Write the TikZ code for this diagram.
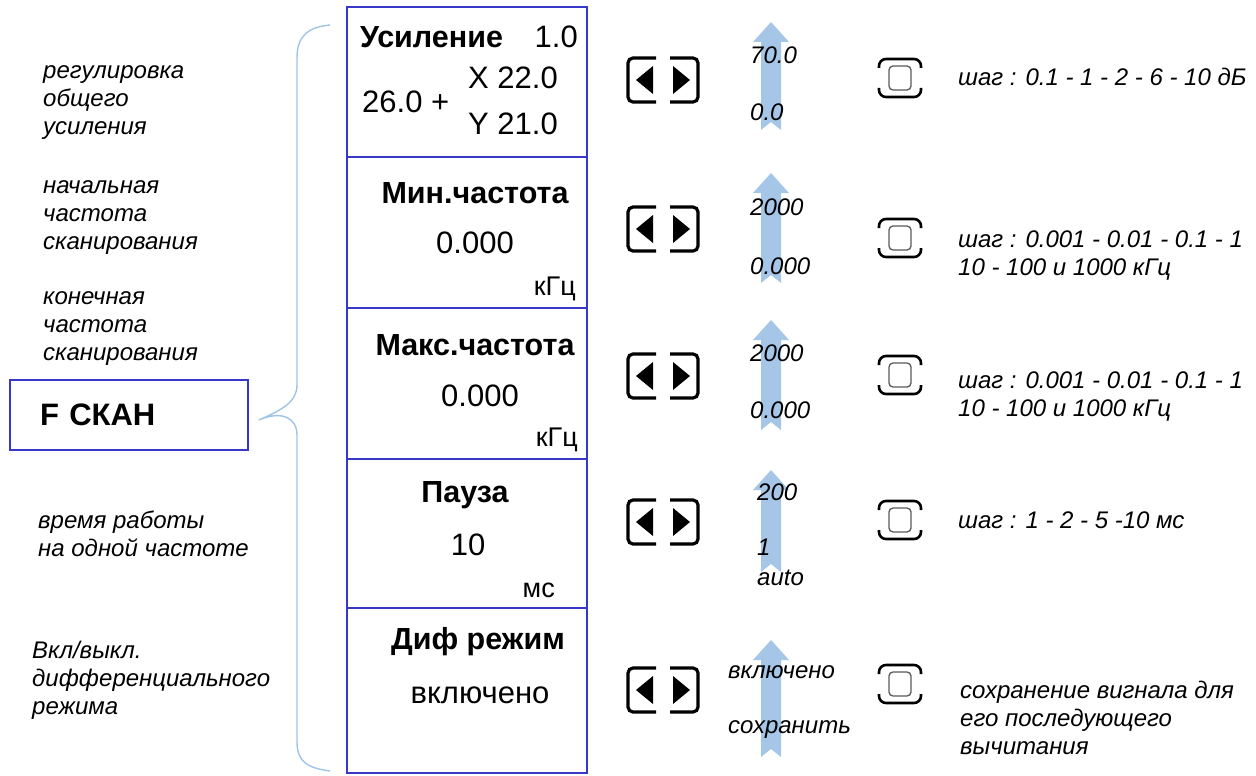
\documentclass[tikz,border=0pt]{standalone}
\usepackage{fontspec}
\setmainfont{Liberation Sans}
\usepackage{xcolor}
\usepackage{tikz}

\definecolor{boxblue}{RGB}{55,55,200}
\definecolor{brblue}{RGB}{160,196,232}
\definecolor{arblue}{RGB}{166,198,232}

\tikzset{
  ttl/.style={font=\fontsize{30.5}{34}\selectfont\bfseries, inner sep=0pt},
  val/.style={font=\fontsize{31}{35}\selectfont, inner sep=0pt},
  unit/.style={font=\fontsize{27}{30}\selectfont, inner sep=0pt},
  note/.style={font=\fontsize{24}{28}\selectfont\itshape, align=left, anchor=west, inner sep=0pt},
  scl/.style={font=\fontsize{24}{28}\selectfont\itshape, anchor=west, inner sep=0pt},
  fbox/.style={draw=boxblue, line width=1.6pt, minimum width=238pt, minimum height=70pt,
    text width=178pt, align=left, font=\fontsize{31}{34}\selectfont\bfseries},
  lrkey/.pic={
    \draw[line width=3.2pt, rounded corners=5pt] (-7,-22) -- (-35,-22) -- (-35,22) -- (-7,22);
    \draw[line width=3.2pt, rounded corners=5pt] (7,-22) -- (35,-22) -- (35,22) -- (7,22);
    \fill (-27,0) -- (-10,-14) -- (-10,14) -- cycle;
    \fill (27,0) -- (10,-14) -- (10,14) -- cycle;
  },
  okkey/.pic={
    \draw[line width=2.6pt, rounded corners=7pt] (-21,-10) -- (-21,-19) -- (21,-19) -- (21,-10);
    \draw[line width=2.6pt, rounded corners=7pt] (-21,10) -- (-21,19) -- (21,19) -- (21,10);
    \draw[gray!70!black, line width=1.3pt, rounded corners=4pt] (-11,-12) rectangle (11,12);
  }
}

% block arrow: x, tip, tail
\newcommand{\uparr}[3]{%
  \fill[arblue] (#1-10,#3) -- (#1-10,#2+20) -- (#1-18,#2+20) -- (#1,#2)
    -- (#1+18,#2+20) -- (#1+10,#2+20) -- (#1+10,#3) -- (#1,#3-8) -- cycle;}

\begin{document}
\begin{tikzpicture}[x=1pt,y=-1pt]
\useasboundingbox (0,0) rectangle (1256,776);

%% Left notes %%
\node[note] (n1) at (43,103) {регулировка\\общего\\усиления};
\node[note] (n2) at (43,218) {начальная\\частота\\сканирования};
\node[note] (n3) at (43,329) {конечная\\частота\\сканирования};
\node[note] (n4) at (38,534) {время работы\\на одной частоте};
\node[note] (n5) at (32,680) {Вкл/выкл.\\дифференциального\\режима};

\node[fbox] (fscan) at (129,415) {F СКАН};

%% Brace %%
\coordinate (brtip) at ([xshift=10pt,yshift=-5pt]fscan.east);
\draw[brblue, line width=1.4pt] (330,25) .. controls (308,27) and (297,36) .. (297,58)
  -- (297,385) .. controls (297,402) and (282,410) .. (brtip)
  .. controls (282,410) and (297,418) .. (297,435)
  -- (297,742) .. controls (297,762) and (308,768) .. (330,771);

%% Column %%
\draw[boxblue, line width=1.8pt] (347,7) rectangle (587,773);
\foreach \yy in {157,308,459,608}
  \draw[boxblue, line width=1.8pt] (347,\yy) -- (587,\yy);

\node[ttl, anchor=west] (gainT) at (360,37) {Усиление};
\node[val, anchor=east] (gainS) at (578,37) {1.0};
\node[val, anchor=west] (gainB) at (362,102) {26.0 +};
\node[val, anchor=west] (gainX) at (468,78) {X 22.0};
\node[val, anchor=west] (gainY) at (468,124) {Y 21.0};

\node[ttl] (fminT) at (475,193) {Мин.частота};
\node[val] (fminV) at (475,243) {0.000};
\node[unit, anchor=east] (fminU) at (576,289) {кГц};

\node[ttl] (fmaxT) at (475,345) {Макс.частота};
\node[val] (fmaxV) at (480,396) {0.000};
\node[unit, anchor=east] (fmaxU) at (578,440) {кГц};

\node[ttl] (pauseT) at (465,495) {Пауза};
\node[val] (pauseV) at (468,545) {10};
\node[unit, anchor=east] (pauseU) at (555,590) {мс};

\node[ttl] (difT) at (478,642) {Диф режим};
\node[val] (difV) at (480,695) {включено};

%% Keys %%
\pic at (663,80) {lrkey};
\pic at (663,229) {lrkey};
\pic at (663,376) {lrkey};
\pic at (663,522) {lrkey};
\pic at (663,690) {lrkey};

\pic at (900,78) {okkey};
\pic at (900,238) {okkey};
\pic at (900,375) {okkey};
\pic at (900,520) {okkey};
\pic at (900,684) {okkey};

%% Arrows %%
\uparr{771}{22}{130}
\uparr{771}{173}{283}
\uparr{771}{320}{430}
\uparr{771}{470}{572}
\uparr{771}{640}{757}

\node[scl] (g1) at (750,55) {70.0};
\node[scl] (g0) at (750,112) {0.0};
\node[scl] (a1) at (750,207) {2000};
\node[scl] (a0) at (750,266) {0.000};
\node[scl] (b1) at (750,353) {2000};
\node[scl] (b0) at (750,410) {0.000};
\node[scl] (p1) at (757,492) {200};
\node[scl] (p0) at (757,547) {1};
\node[scl] (pa) at (757,578) {auto};
\node[scl] (d1) at (728,672) {включено};
\node[scl] (d0) at (728,730) {сохранить};

%% Steps %%
\node[note] (s1) at (958,77) {шаг : 0.1 - 1 - 2 - 6 - 10 дБ};
\node[note] (s2) at (958,256) {шаг : 0.001 - 0.01 - 0.1 - 1\\10 - 100 и 1000 кГц};
\node[note] (s3) at (958,397) {шаг : 0.001 - 0.01 - 0.1 - 1\\10 - 100 и 1000 кГц};
\node[note] (s4) at (958,520) {шаг : 1 - 2 - 5 -10 мс};
\node[note] (s5) at (960,718) {сохранение вигнала для\\его последующего\\вычитания};

\end{tikzpicture}
\end{document}
